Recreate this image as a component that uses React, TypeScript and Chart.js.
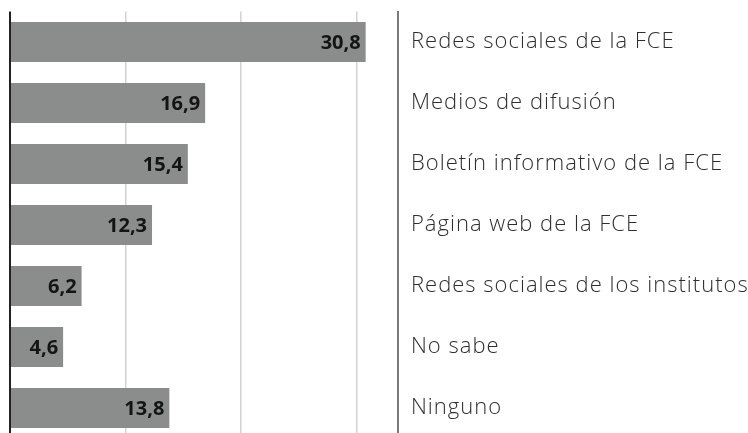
import React, { useEffect, useRef } from "react";
import { Chart, registerables } from "chart.js";

Chart.register(...registerables);

const categories = [
  "Redes sociales de la FCE",
  "Medios de difusión",
  "Boletín informativo de la FCE",
  "Página web de la FCE",
  "Redes sociales de los institutos",
  "No sabe",
  "Ninguno",
];
const values = [30.8, 16.9, 15.4, 12.3, 6.2, 4.6, 13.8];
const gridTicks = [0, 10, 20, 30];

const valueLabels = {
  id: "valueLabels",
  beforeDraw(chart: any) {
    chart.ctx.letterSpacing = "1px";
  },
  beforeDatasetsDraw(chart: any) {
    chart.ctx.letterSpacing = "0px";
  },
  afterDatasetsDraw(chart: any) {
    const ctx = chart.ctx;
    const meta = chart.getDatasetMeta(0);
    ctx.save();
    ctx.letterSpacing = "0px";
    ctx.font = "bold 20px 'Open Sans'";
    ctx.fillStyle = "#141414";
    ctx.textAlign = "right";
    ctx.textBaseline = "middle";
    meta.data.forEach((bar: any, i: number) => {
      const txt = values[i].toFixed(1).replace(".", ",");
      ctx.fillText(txt, bar.x - 5, bar.y + 1);
    });
    ctx.restore();
  },
};

export default function App() {
  const ref = useRef<HTMLCanvasElement>(null);
  useEffect(() => {
    if (!ref.current) return;
    const chart = new Chart(ref.current, {
      type: "bar",
      data: {
        labels: categories,
        datasets: [
          {
            data: values,
            backgroundColor: "#8b8d8d",
            borderWidth: 0,
            barPercentage: 0.656,
            categoryPercentage: 1,
          },
        ],
      },
      options: {
        indexAxis: "y",
        animation: false,
        responsive: false,
        layout: { padding: { left: 10, top: 11.5, bottom: 1.5, right: 0 } },
        plugins: { legend: { display: false }, tooltip: { enabled: false } },
        scales: {
          x: {
            min: 0,
            max: 33.6,
            afterBuildTicks: (scale: any) => {
              scale.ticks = gridTicks.map((v) => ({ value: v }));
            },
            afterFit: (scale: any) => {
              scale.height = 0;
              scale.paddingLeft = 0;
              scale.paddingRight = 0;
              scale.paddingTop = 0;
              scale.paddingBottom = 0;
            },
            ticks: { display: false },
            border: { display: false },
            grid: {
              drawTicks: false,
              lineWidth: (c: any) => (c.tick && c.tick.value === 0 ? 2 : 1.5),
              color: (c: any) =>
                c.tick && c.tick.value === 0 ? "#222222" : "#d2d2d2",
            },
          },
          y: {
            position: "right",
            afterFit: (scale: any) => {
              scale.width = 350;
              scale.paddingTop = 0;
              scale.paddingBottom = 0;
            },
            grid: { display: false, drawTicks: false },
            border: { display: true, color: "#7a7a7a", width: 2 },
            ticks: {
              padding: 13,
              color: "#2e2e2e",
              font: { family: "'Open Sans'", size: 22, weight: 300 },
            },
          },
        },
      },
      plugins: [valueLabels],
    });
    return () => chart.destroy();
  }, []);
  return (
    <div
      style={{
        position: "fixed",
        left: 0,
        top: 0,
        width: 748,
        height: 433,
        overflow: "hidden",
        background: "#fff",
      }}
    >
      <canvas ref={ref} width={748} height={440} style={{ display: "block" }} />
    </div>
  );
}
